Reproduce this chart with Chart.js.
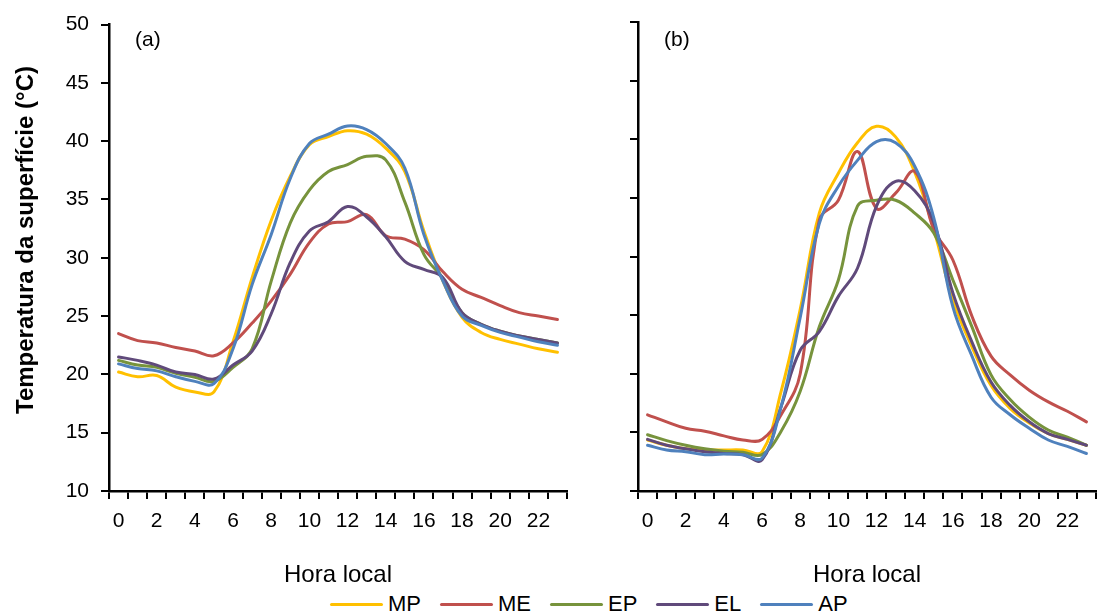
<!DOCTYPE html>
<html>
<head>
<meta charset="utf-8">
<script src="https://cdn.jsdelivr.net/npm/chart.js@4.4.1/dist/chart.umd.min.js"></script>
<style>
  body {
    margin: 0;
    width: 1097px;
    height: 614px;
    position: relative;
    overflow: hidden;
    background: #fff;
    font-family: "Liberation Sans", Arial, sans-serif;
    color: #000;
  }
  canvas { position: absolute; top: 0; }
  #chartA { left: 0; }
  #chartB { left: 600px; }
  .tag { position: absolute; top: 28px; font-size: 21px; line-height: 21px; }
  #yTitle {
    position: absolute;
    left: -150px;
    top: 228px;
    width: 350px;
    height: 24px;
    line-height: 24px;
    text-align: center;
    white-space: nowrap;
    font-size: 24px;
    font-weight: bold;
    transform: rotate(-90deg);
  }
  #legend {
    position: absolute;
    left: 330px;
    top: 591px;
    height: 26px;
    display: flex;
    align-items: center;
    font-size: 22px;
  }
  .item { display: flex; align-items: center; margin-right: 19px; }
  .swatch { width: 53px; height: 3px; border-radius: 2px; margin-right: 5px; }
</style>
</head>
<body>
<canvas id="chartA" width="600" height="590"></canvas>
<canvas id="chartB" width="497" height="590"></canvas>
<div id="yTitle">Temperatura da superfície (°C)</div>
<div class="tag" style="left:135px">(a)</div>
<div class="tag" style="left:664px">(b)</div>
<div id="legend"></div>

<script>
const hours = [0, 1, 2, 3, 4, 5, 6, 7, 8, 9, 10, 11, 12, 13, 14, 15, 16, 17, 18, 19, 20, 21, 22, 23];
const seriesNames = ['MP', 'ME', 'EP', 'EL', 'AP'];
const seriesColors = ['#FFC000', '#C0504D', '#77933C', '#604A7B', '#4F81BD'];

// panel (a)
const mpA = [20.2, 19.8, 19.9, 18.9, 18.5, 18.5, 22.8, 28.3, 33.2, 37.0, 39.7, 40.4, 40.9, 40.6, 39.4, 37.4, 32.3, 28.0, 24.9, 23.6, 23.0, 22.6, 22.2, 21.9];
const meA = [23.5, 22.9, 22.7, 22.3, 22.0, 21.6, 22.7, 24.4, 26.3, 28.6, 31.3, 32.9, 33.1, 33.7, 31.9, 31.6, 30.7, 28.8, 27.3, 26.6, 25.9, 25.3, 25.0, 24.7];
const epA = [21.2, 20.8, 20.6, 20.1, 19.75, 19.4, 20.6, 22.2, 28.0, 33.0, 35.8, 37.4, 38.0, 38.7, 38.4, 34.8, 30.3, 28.2, 25.3, 24.3, 23.7, 23.3, 23.0, 22.7];
const elA = [21.5, 21.2, 20.8, 20.2, 20.0, 19.6, 20.8, 22.0, 25.2, 29.6, 32.3, 33.1, 34.4, 33.5, 31.8, 29.7, 29.0, 28.3, 25.3, 24.3, 23.7, 23.3, 23.0, 22.7];
const apA = [20.9, 20.5, 20.3, 19.8, 19.4, 19.2, 22.2, 27.7, 32.0, 36.8, 39.8, 40.6, 41.3, 41.0, 39.8, 37.7, 32.0, 28.0, 25.0, 24.2, 23.6, 23.2, 22.8, 22.5];

// panel (b)
const mpB = [14.35, 13.9, 13.6, 13.5, 13.5, 13.5, 13.35, 18.5, 25.5, 33.7, 37.1, 39.7, 41.1, 40.2, 37.2, 32.3, 26.3, 22.3, 19.0, 17.05, 15.8, 14.9, 14.4, 13.9];
const meB = [16.5, 15.9, 15.35, 15.1, 14.7, 14.35, 14.4, 16.5, 20.0, 33.1, 34.8, 38.95, 34.1, 35.4, 37.25, 32.3, 29.7, 24.9, 21.5, 19.9, 18.6, 17.6, 16.8, 15.9];
const epB = [14.8, 14.3, 13.9, 13.6, 13.4, 13.3, 13.1, 15.1, 18.5, 24.0, 28.0, 34.3, 34.8, 34.8, 33.7, 32.0, 28.0, 24.0, 19.9, 17.8, 16.3, 15.2, 14.6, 13.9];
const elB = [14.4, 13.9, 13.6, 13.35, 13.2, 13.1, 12.65, 17.2, 22.0, 23.6, 26.6, 29.0, 34.3, 36.4, 35.6, 32.9, 26.9, 22.7, 19.3, 17.3, 15.9, 14.9, 14.4, 13.9];
const apB = [13.9, 13.5, 13.35, 13.1, 13.15, 13.1, 12.8, 17.2, 24.8, 32.8, 36.0, 38.2, 39.8, 39.7, 37.7, 33.3, 25.7, 21.5, 18.0, 16.5, 15.35, 14.35, 13.8, 13.2];

const FONT = '"Liberation Sans", Arial, sans-serif';

function buildDatasets(values) {
  return values.map((vals, i) => ({
    label: seriesNames[i],
    data: vals,
    borderColor: seriesColors[i],
    borderWidth: 3,
    tension: 0.4,
    pointRadius: 0,
    fill: false,
    borderCapStyle: 'round',
    borderJoinStyle: 'round',
    order: seriesNames.length - i   // last series drawn on top
  }));
}

function makeChart(canvasId, values, showYLabels, yWidth) {
  return new Chart(document.getElementById(canvasId), {
    type: 'line',
    data: { labels: hours, datasets: buildDatasets(values) },
    options: {
      responsive: false,
      animation: false,
      layout: { padding: { top: 22, right: showYLabels ? 33 : 1, bottom: 0, left: 0 } },
      plugins: { legend: { display: false }, tooltip: { enabled: false } },
      scales: {
        x: {
          type: 'category',
          offset: true,
          border: { color: '#000', width: 2.5 },
          grid: { offset: true, drawOnChartArea: false, tickLength: 8, color: '#000', lineWidth: 2 },
          ticks: {
            autoSkip: false,
            maxRotation: 0,
            minRotation: 0,
            padding: 10,
            color: '#000',
            font: { family: FONT, size: 21 },
            callback: (v, i) => (i % 2 === 0 ? hours[i] : '')
          },
          title: {
            display: true,
            text: 'Hora local',
            color: '#000',
            font: { family: FONT, size: 24 },
            padding: { top: 0, bottom: 0 }
          },
          afterFit: s => { s.height = 99; }
        },
        y: {
          min: 10,
          max: 50,
          border: { color: '#000', width: 2.5 },
          grid: { drawOnChartArea: false, tickLength: 8, color: '#000', lineWidth: 2 },
          ticks: {
            stepSize: 5,
            display: showYLabels,
            padding: 12,
            color: '#000',
            font: { family: FONT, size: 21 }
          },
          afterFit: s => { s.width = yWidth; }
        }
      }
    }
  });
}

makeChart('chartA', [mpA, meA, epA, elA, apA], true, 109);
makeChart('chartB', [mpB, meB, epB, elB, apB], false, 38);

// shared legend under both panels
const legend = document.getElementById('legend');
seriesNames.forEach((name, i) => {
  const item = document.createElement('div');
  item.className = 'item';
  item.innerHTML = '<span class="swatch" style="background:' + seriesColors[i] + '"></span>' + name;
  legend.appendChild(item);
});
</script>
</body>
</html>
